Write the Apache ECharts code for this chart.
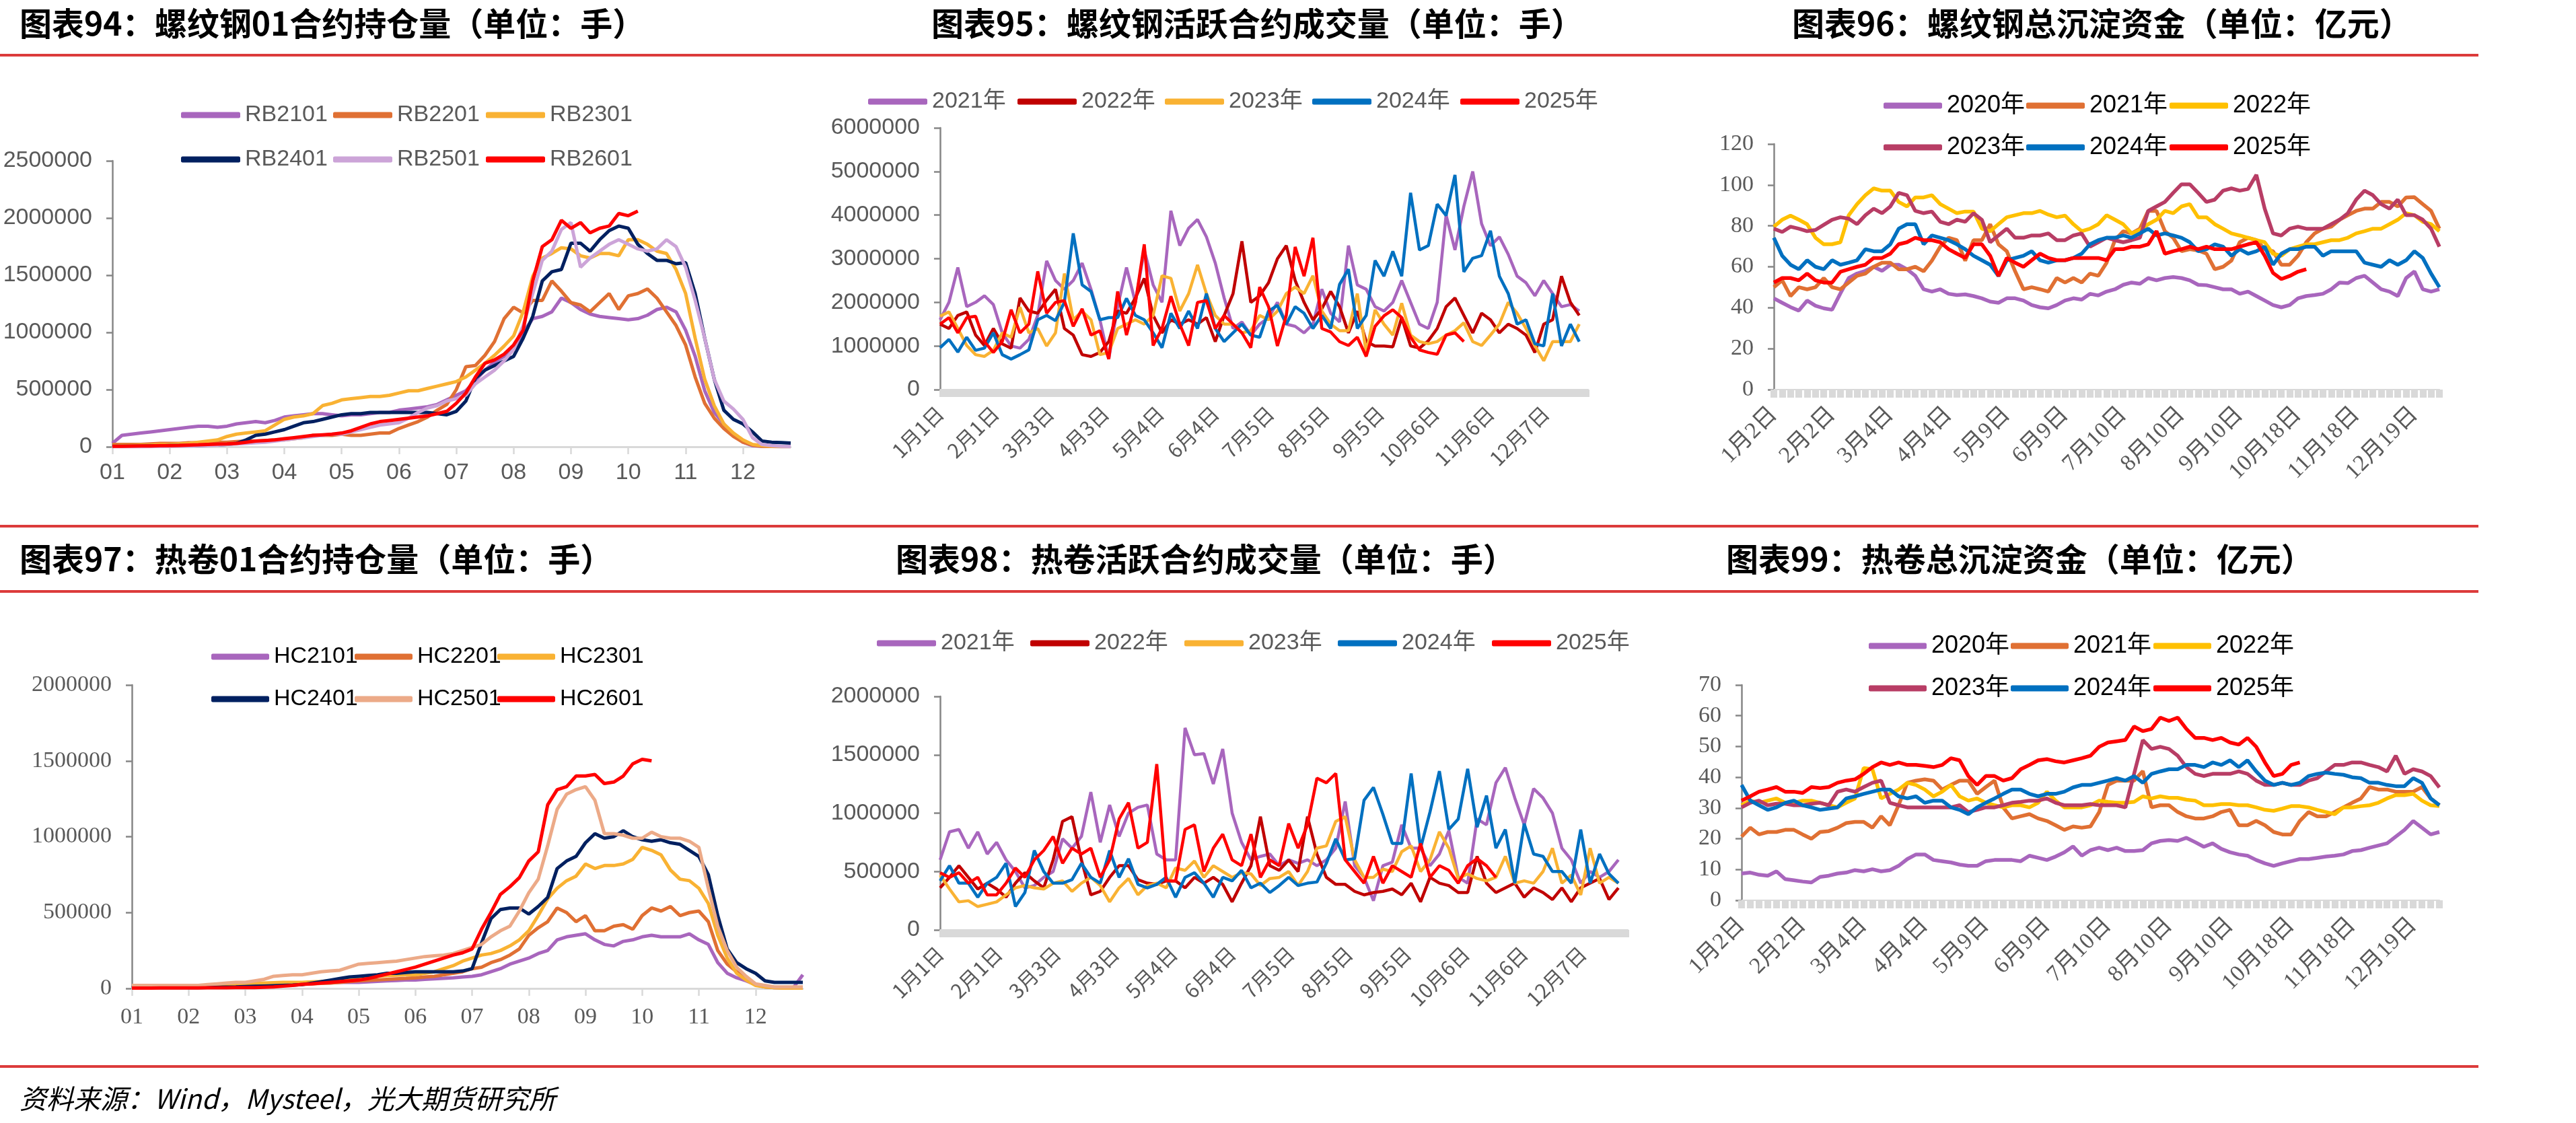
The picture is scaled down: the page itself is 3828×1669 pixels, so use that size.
<!DOCTYPE html>
<html>
<head>
<meta charset="utf-8">
<script src="https://cdn.jsdelivr.net/npm/echarts@6/dist/echarts.min.js"></script>
<style>
  html, body { margin: 0; padding: 0; background: #fff; }
  #chart { width: 3828px; height: 1669px; }
</style>
</head>
<body>
<div id="chart"></div>
<script>
// ---- data (open interest in 万手, volume in 万手, funds in 亿元) ----
const months = ['01','02','03','04','05','06','07','08','09','10','11','12'];
const fundLabels = ['1月2日','2月2日','3月4日','4月4日','5月9日','6月9日','7月10日','8月10日','9月10日','10月18日','11月18日','12月19日'];

// 螺纹钢01合约持仓量, 6 points per month
const rb2101 = [3,10,11,12,13,14, 15,16,17,18,18,17, 18,20,21,22,21,23, 26,27,28,29,29,28, 27,28,28,29,30,30, 32,33,34,35,37,41, 45,49,58,67,74,79, 86,100,112,114,118,130, 126,120,116,114,113,112, 111,112,115,120,122,118, 102,79,49,30,20,10, 4,1,0.5,0.3,0.2,0.2];
const rb2201 = [2,2,2,2,2.5,3, 3,3,3.5,3.5,4,4, 4,4.5,5,5,5.5,6, 6,7,8,10,10,10, 11,10,10,11,12,12, 16,19,22,26,32,37, 50,70,71,80,92,112, 122,117,128,128,145,136, 126,124,118,126,134,120, 132,134,138,130,118,106, 89,61,38,25,16,9, 4,1.5,0.5,0.3,0.2,0.2];
const rb2301 = [1,1,1,1.5,1.5,2, 2,2.5,3,4,5,6, 9,11,12,13,14,19, 24,26,27,29,36,38, 41,42,43,44,44,45, 47,49,49,51,53,55, 57,61,67,73,80,88, 97,118,149,165,169,174, 173,167,165,169,169,167, 181,181,177,171,169,155, 134,95,59,36,20,12, 6,2,1,0.5,0.3,0.3];
const rb2401 = [0.5,0.5,0.5,0.6,0.7,0.8, 1,1,1,1.2,1.4,1.6, 2,3,6,10,11,13, 15,18,21,22,24,26, 28,29,29,30,30,30, 30,30,30,30,29,28, 31,40,60,67,71,75, 79,95,114,145,153,155, 178,178,171,181,189,193, 191,177,169,163,163,160, 161,134,95,59,32,24, 20,13,5,4,3.7,3.3];
const rb2501 = [0,0,0,0,0.2,0.3, 0.5,0.6,0.8,1,1.2,1.5, 2,2.5,3,3.5,4,5, 6,7,8,9,10,11, 11,13,15,17,19,20, 21,25,30,34,36,40, 42,45,55,61,67,75, 85,106,134,163,171,190, 196,157,165,171,177,181, 177,173,171,173,181,175, 157,128,95,59,40,33, 24,8,2,1,0.5,0.3];
const rb2601 = [0.5,0.5,0.6,0.7,0.8,1, 1,1.2,1.5,1.7,2,2.3, 2.5,3,4,5,5.5,6, 7,8,9,10,10.5,11, 12,14,17,20,22,23, 24,25,26,27,29,31, 38,47,61,73,76,81, 89,102,145,175,181,198, 191,196,187,191,193,204, 202,206];

// 热卷01合约持仓量
const hc2101 = [1,1,1,1,1,1.2, 1.3,1.4,1.5,1.6,1.7,1.8, 2,2,2.2,2.4,2.6,2.8, 3,3.2,3.5,3.7,4,4, 4,4.3,4.6,5,5.2,5.5, 5.5,6,6.3,6.6,7,7.5, 8,9,11,13,16,18, 20,23,25,32,34,35, 36,32,29,28,31,32, 34,35,34,34,34,36, 32,29,17,10,7,5, 2.5,1,0.5,0.5,0.5,9];
const hc2201 = [0.5,0.5,0.5,0.5,0.6,0.6, 0.7,0.8,0.9,1,1,1.2, 1.4,1.6,1.8,2,2.2,2.5, 2.8,3,3.3,3.6,4,4.5, 5,5.3,5.6,6,6.3,6.6, 7,7.5,8,9,10,11, 13,14,17,19,22,26, 35,40,44,53,50,44, 48,38,38,41,42,39, 48,53,51,54,48,50, 51,44,25,16,11,7, 2.5,1,0.5,0.3,0.3,0.3];
const hc2301 = [1,1,1,1,1.2,1.4, 1.5,1.7,2,2.2,2.5,2.8, 3,3.2,3.5,3.8,4,4, 4,4.3,4.6,5,5.5,6, 7,7.5,8,8.5,8.8,9, 9,10,11,13,15,18, 20,22,23,25,28,32, 38,48,59,66,71,74, 82,79,81,81,82,85, 93,91,88,78,72,71, 66,56,35,20,10,5.5, 2,1,0.5,0.3,0.3,0.3];
const hc2401 = [2,1,0.5,0.5,0.5,0.5, 0.5,0.6,0.7,0.8,0.9,1, 1.2,1.4,1.6,1.8,2,2.2, 2.5,3.5,4.5,5.5,6.5,7.5, 8,8.5,9,10,10,10.5, 11,11,11,11,11,11.5, 13,30,46,52,53,53, 49,54,60,79,84,87, 96,102,99,100,104,100, 98,97,98,96,95,91, 87,75,48,26,17,13, 10,5,4,4,4,4];
const hc2501 = [2,2,2,2,2,2, 2,2,2.5,3,3.5,4, 4,5,6,8,8.5,9, 9,10,11,11.5,12,14, 16,16.5,17,17.5,18,19, 20,21,21.5,22,23,25, 27,29,34,38,41,51, 63,72,94,118,128,131, 133,124,102,102,101,99, 99,103,100,99,99,97, 93,66,41,25,14,8, 3,2,1,1,1,1];
const hc2601 = [0.2,0.2,0.2,0.3,0.3,0.3, 0.3,0.3,0.4,0.4,0.4,0.5, 0.5,0.6,0.8,1,1.5,2, 2.7,3,3.5,4,4.5,5, 5.5,6.5,8,9.5,11,12.5, 14,16,18,20,22,23.5, 26,39,50,62,67,73, 84,90,121,131,133,140, 140,141,135,136,140,148, 151,150];

// 螺纹钢活跃合约成交量, one value every 5 calendar days
const rbVol2021 = [160,200,280,190,200,215,195,130,100,95, 115,170,295,250,230,250,290,230,160,70, 190,280,200,320,240,200,410,330,370,390, 350,290,210,140,155,125,150,165,200,150, 145,130,150,230,175,155,330,240,230,190, 180,200,250,200,150,140,200,400,320,420, 500,380,330,350,310,260,245,215,250,220, 190,195,180];
const rbVol2022 = [150,140,170,178,125,101,140,105,95,210, 180,175,205,230,140,125,80,76,85,110, 180,175,210,255,170,130,160,150,160,150, 165,110,170,220,340,200,215,245,300,330, 250,200,160,185,225,190,130,180,110,100, 100,98,165,100,95,112,140,190,210,170, 130,175,160,130,150,140,125,85,150,160, 260,200,170];
const rbVol2023 = [168,178,140,101,80,76,90,130,120,189, 130,140,100,130,266,160,180,160,80,85, 140,150,160,150,170,261,255,180,220,286, 220,170,150,150,130,135,170,160,180,220, 235,220,261,180,150,135,135,220,85,183, 150,125,198,125,110,105,110,125,135,153, 110,101,125,150,200,175,140,101,66,110, 110,110,150];
const rbVol2024 = [96,115,86,120,90,95,130,80,70,80, 91,160,170,158,200,358,240,225,160,165, 165,209,170,160,130,96,175,140,180,140, 220,140,110,130,150,125,120,180,193,150, 190,175,140,170,140,241,276,140,170,296, 260,317,260,451,320,330,425,399,492,270, 301,307,364,260,220,150,160,105,100,220, 100,150,110];
const rbVol2025 = [150,165,130,165,168,110,85,110,183,130, 150,271,175,200,204,145,185,125,135,70, 225,125,199,333,101,140,214,150,101,200, 204,140,170,150,130,96,235,190,100,170, 327,260,348,140,132,110,101,120,76,145, 169,183,165,120,91,85,81,125,130,110];

// 热卷活跃合约成交量
const hcVol2021 = [60,84,86,70,84,65,75,60,50,36, 38,45,50,78,70,80,118,75,107,80, 100,105,107,65,60,60,173,150,151,125, 155,100,75,60,63,65,55,60,57,60, 55,60,70,110,55,45,25,55,58,90, 70,70,55,65,85,45,40,95,90,126, 139,113,90,121,113,100,70,60,40,50, 45,50,60];
const hcVol2022 = [36,45,55,45,35,40,35,28,40,49, 42,36,60,93,97,60,30,33,45,55, 55,43,40,39,42,42,36,45,40,45, 39,24,40,55,97,55,51,60,50,97, 65,45,39,39,33,30,32,33,35,30, 40,24,45,40,38,32,32,63,40,32, 36,40,28,36,32,26,36,24,36,40, 44,26,36];
const hcVol2023 = [47,35,24,25,20,22,24,30,36,38, 36,35,40,42,33,40,45,38,24,36, 44,30,38,40,36,53,51,59,45,55, 50,45,49,48,38,44,45,50,38,50, 70,72,93,97,60,45,45,52,50,67, 72,50,60,84,70,44,48,44,42,45, 63,40,42,40,50,70,40,47,30,70, 40,45,40];
const hcVol2024 = [42,55,40,40,28,40,45,57,20,32, 68,50,40,40,43,57,45,40,68,45, 61,39,36,39,45,28,45,49,40,28, 45,42,51,36,40,32,38,45,38,40, 41,57,78,60,61,111,122,99,74,74, 134,70,101,136,86,95,138,88,115,70, 86,40,91,65,63,50,50,40,86,40, 65,48,40];
const hcVol2025 = [49,45,49,40,45,30,30,40,53,45, 60,68,80,57,70,65,70,45,60,95, 109,70,75,142,42,42,86,90,50,70, 82,60,55,82,45,60,55,91,70,90, 130,126,134,60,50,40,63,40,55,50, 45,74,45,55,51,40,55,61,55,45];

// 螺纹钢总沉淀资金, roughly every 3 trading days
const rbFund2020 = [44.6,42.4,40.3,38.6,43.5,41,39.7,39,47,54.5, 56.7,58,60,58,61,61,58.8,55.6,49,47.9, 49,46.8,46.2,46.5,45.7,44.6,43,42.4,44.6,44.6, 43.5,41.3,40.2,39.7,41.3,43.5,44.6,44,46.8,46, 47.9,49,51.2,52.3,51.7,54.5,53.4,54.5,55,54.5, 53.4,51.2,51,50,49,49,46.8,47.9,45.7,43.5, 41.3,40.2,41.3,44.6,45.7,46.2,46.8,49,52.3,52, 54.5,55.6,52.3,49,47.9,45.7,54.5,57.7,49,47.9, 49];
const rbFund2021 = [50,53.4,45.7,50,49,50,54.5,50,49,52.3, 55.6,56.7,60,62,62,58.8,58.8,60,57.8,63, 69.8,74.2,73,63,73,73,80.8,71,67.6,57.8, 49,50,49,47.9,54.5,52.3,54.5,52.3,56.7,55.6, 62,73,77.4,76.3,78.6,87.3,87.3,77.4,74.2,67.6, 68.6,68,66.4,58.8,60,63,72,74.2,73,68.6, 67.6,61,61,65.4,72,76.3,78.6,79.6,83,85.2, 87.3,88.4,88.4,91.7,91.7,89.5,93.9,94,90.6,87.3, 78.6];
const rbFund2022 = [79.6,83,85,83,80.8,74.2,71,71,72,85.2, 90.6,95,98.3,97.2,97.2,91.7,89.5,93.9,93.9,95, 90.6,88.4,86.2,87,87,78.6,77.4,80.8,84.2,85.2, 86.2,86.2,87.3,85.5,84.2,85,80.8,77.4,78.6,80.8, 85.2,83,80.8,76.3,78,80.8,83,87.3,86.2,89.5, 90.6,84.2,84.2,80.8,78.6,76.3,75.3,74.2,73,72, 66.4,65.4,68.6,69.8,71,71,72,73,73,74.2, 76.3,77.4,78.6,78.6,80.8,83,86.2,85.2,82,80.8, 77.4];
const rbFund2023 = [78.6,77,79.6,78.6,77.4,78,80.5,83,84.2,83.5, 80.8,85.2,88.4,86.2,89.5,96.1,95,87.3,86.2,87, 82,80.8,83,82,86.2,83,72,75.3,78.6,74.2, 74.2,75.3,75.3,76.3,73,73,75.3,76.3,69.8,72, 74.2,73,72,73,74.2,87.3,89.5,91.7,96.1,100.3, 100.3,96.1,91.7,92.8,97.2,98.3,97.2,98,104.9,88.4, 76.3,75.3,78.6,79.6,78.6,78.6,78.6,80.8,83,86.2, 92.8,97.2,95,90.6,88.4,92.8,85.2,85.2,83,78.6, 69.8];
const rbFund2024 = [74.2,65.4,61,58.8,63.2,60,58.8,63.2,61,62, 63.2,68.6,67.6,67.6,71,78.6,80.8,80.8,71,75.3, 74.2,73,71,68.6,65.4,63.2,61,55.5,63.2,64.3, 65.4,67.6,63.2,62,63.2,63.2,64.3,66.4,71,73, 74.2,74.2,75.3,74.2,76.3,78.6,75.3,76.3,75.3,74.2, 72,67.6,68.6,71,69.8,65.4,68.6,66.4,67.6,69.8, 61,66.4,68.6,68.6,69.8,69.8,65.4,67.6,67.6,67.6, 67.6,62,61,60,63.2,61,63.2,67.6,64.3,56.7, 50];
const rbFund2025 = [52.3,54.5,54.5,53.4,56.7,53.4,52.3,52.3,57.6,58.8, 60,61,64.3,64.3,66.4,71,72,74.2,73,73, 72,68.6,66.4,64.3,71,71,65.4,55.5,64.3,62, 60,63.2,66.4,64.3,63.2,63.2,64.3,64.3,64.3,64.3, 63.2,68.6,68.6,69.8,69.8,71,77.4,66.4,67.6,68.6, 69.8,68.6,69.8,68.6,68.6,68.6,69.8,71,72,65.4, 57,54,55.5,57.6,58.8];

// 热卷总沉淀资金
const hcFund2020 = [8.7,9,8.3,8,9.4,6.9,6.5,6.1,5.8,7.6, 8,8.7,9,9.8,9.4,10.1,9.4,9.8,11.2,13.4, 14.9,14.9,13.1,12.7,12.3,11.6,11.2,11.2,12.7,13.1, 13.1,13.1,12.7,14.5,13.8,13.1,14.2,15.6,17.5,14.5, 16.3,17.1,16.3,17.1,16,16,16.3,18.5,19.3,19.6, 19.3,20.3,18.9,17.4,18.5,16.7,15.6,14.9,14.5,13.1, 12,11.2,12,12.7,13.4,13.4,13.8,14.2,14.5,14.9, 16,16.3,17.1,17.8,18.5,20.7,22.9,25.8,23.6,21.4, 22.2];
const hcFund2021 = [20.7,23.6,21.4,22.2,22.2,22.9,22.9,21.4,20,22.2, 22.5,23.6,25.1,25.5,25.5,23.6,27.3,24.4,30.9,38.2, 38.9,39.3,38.9,36,37.5,38.9,38.9,34.6,36.8,38.9, 30.2,26.6,27.3,28,26.6,25.8,24.4,22.9,24,23.6, 24,28.7,37.5,38.9,38.9,38.9,42,30.2,30.9,30.9, 28.7,27.3,26.6,26.6,27.3,28.7,29.4,24.4,24.4,25.8, 24.4,22.2,21.4,21.4,25.8,28.7,27.3,27.3,28.7,30.2, 31.7,33.1,36.8,36,36,35.3,35.3,35.3,36.8,33.1, 30.9];
const hcFund2022 = [30.9,32.4,31.7,32.4,33.1,31.7,31.7,32.4,32.4,31.7, 30.9,30.2,31.7,33.1,43,42.6,33.1,34.6,36,38.2, 37.5,36,33.8,35.3,37.5,33.8,32.4,33.1,31.7,30.9, 30.2,30.9,30.9,30.2,31.7,35.3,32.4,30.2,30.2,30.2, 30.9,32.4,32,31.7,31.7,32,33.8,33.1,33.8,33.3, 33.3,32.7,32.4,30.9,30.9,31.3,31.3,30.9,30.9,30.2, 29.4,29.1,29.8,30.6,30.6,30.2,29.4,28.7,28,30.2, 30.2,30.6,30.9,31.7,33.1,34.2,34.2,34.6,32.4,30.9, 30.6];
const hcFund2023 = [30.2,31.7,32.4,30.9,31.4,31.4,30.9,30.9,31.4,31.7, 30.9,35.3,36,35.3,36.8,38.2,38.9,31.7,30.9,30.2, 30.2,30.2,30.2,30.2,30.2,30.9,28.7,29.4,30.2,30.2, 30.9,31.7,32,32.4,32.4,33.1,31.7,30.9,30.9,30.9, 31.3,30.9,30.9,30.9,30.2,41.1,52.1,49.2,49.9,49.2, 47,43.3,41.1,40.4,41.1,41.1,41.1,41.9,41.1,38.9, 37.5,37.5,38.2,37.5,37.5,38.9,39.7,41.9,44,44, 44.8,44.8,44,43.3,41.9,47,41.1,42.6,41.9,40.4, 36.7];
const hcFund2024 = [37.5,32.4,30.9,29.4,30.2,31.7,32.4,30.9,30.2,29.4, 29.8,30.2,33.1,33.8,34.6,35.3,36,36,33.8,33.1, 33.8,31.7,32.4,32.4,30.2,29.4,28,30.2,31.7,33.1, 34.6,36,36,34.6,33.8,34.6,34.6,35.3,36.7,37.5, 37.5,38.2,38.9,39.7,38.9,40.4,38.2,41.1,41.9,42.6, 42.6,44,44,43.3,44.8,44,45.5,43.3,45.5,41.9, 38.9,37.5,38.2,37.5,38.2,40.4,41.1,41.5,41.1,40.8, 40,39.7,38.2,38.2,37.5,37.1,37.1,39.7,38.2,33.1, 30.9];
const hcFund2025 = [32.4,33.8,35.3,36,36.8,35.3,35.3,34.9,36.8,36.5, 36.8,38.2,38.9,39.3,41.1,43.3,44.8,44,44.8,44, 44,43.7,43.3,44,46.2,45.5,40.4,37.5,40.4,40.4, 38.9,39.7,42.6,44,45.5,45.9,45.2,44.8,45.5,46.2, 47,49.9,51.3,51.7,52.1,56.5,55,55.7,59.4,58.3, 59.4,55.7,52.8,52.8,52.1,52.8,51.3,50.6,52.8,49.9, 44.8,40.4,41.1,44,44.8];

// ---- categories ----
const WAN = 10000;
const PER_MONTH = 6;
const oiCats = [];
months.forEach(m => { for (let k = 0; k < PER_MONTH; k++) oiCats.push(k === 0 ? m : m + '-' + k); });

// calendar-day axis (leap year, so the labels fall on 3月3日, 4月3日 ...)
const DAY_STEP = 5;
const dayCats = [];
for (let d = 0; d < 366; d++) {
  const dt = new Date(2024, 0, 1 + d);
  dayCats.push((dt.getMonth() + 1) + '月' + dt.getDate() + '日');
}
function spreadDays(vals) {
  const out = new Array(dayCats.length).fill(null);
  vals.forEach((v, j) => { out[j * DAY_STEP] = v * WAN; });
  return out;
}

const PER_LABEL = 7;
const FUND_N = 81;
const fundCats = [];
for (let k = 0; k < FUND_N; k++) {
  const base = fundLabels[Math.min(Math.floor(k / PER_LABEL), fundLabels.length - 1)];
  fundCats.push(k % PER_LABEL === 0 ? base : base + '·' + (k % PER_LABEL));
}

// ---- styles ----
const NARROW = '"Liberation Sans Narrow", "Liberation Sans", "Noto Sans CJK SC", sans-serif';
const SERIF = '"Liberation Serif", "Noto Sans CJK SC", serif';
const CJK = '"Noto Sans CJK SC", sans-serif';
const AXIS_GREY = '#868686';
const BAND = '#D9D9D9';
const LABEL = '#595959';

const C = {
  purple: '#A866BD', orange: '#E07033', amber: '#F9B233', navy: '#002060',
  lilac: '#CCA4D8', red: '#FF0000', salmon: '#ECAA88', darkred: '#C00000',
  blue: '#0070C0', gold: '#FFC000', crimson: '#B83D65'
};

const grids = [
  { left: 167, top: 239, width: 1008, height: 425 },
  { left: 1397, top: 190, width: 963, height: 389 },
  { left: 2636, top: 214, width: 989, height: 365 },
  { left: 196, top: 1018, width: 997, height: 451 },
  { left: 1397, top: 1035, width: 1022, height: 347 },
  { left: 2588, top: 1018, width: 1037, height: 320 }
].map(g => Object.assign({ containLabel: false, outerBoundsMode: 'none' }, g));

function yAx(grid, max, interval, family) {
  return {
    type: 'value', gridIndex: grid, min: 0, max: max, interval: interval,
    axisLine: { show: true, lineStyle: { color: AXIS_GREY, width: 2.5 } },
    axisTick: { show: true, length: 9, lineStyle: { color: AXIS_GREY, width: 2.5 } },
    splitLine: { show: false },
    axisLabel: { margin: 30, fontSize: 34, color: LABEL, fontFamily: family, formatter: v => String(v) }
  };
}
function xMonth(grid, family, margin) {
  return {
    type: 'category', gridIndex: grid, data: oiCats, boundaryGap: false,
    axisLine: { lineStyle: { color: BAND, width: 3 } },
    axisTick: { interval: PER_MONTH - 1, length: 11, lineStyle: { color: BAND, width: 2.5 } },
    axisLabel: { interval: PER_MONTH - 1, margin: margin, fontSize: 34, color: LABEL, fontFamily: family }
  };
}
function xDays(grid) {
  return {
    type: 'category', gridIndex: grid, data: dayCats, boundaryGap: false,
    axisLine: { lineStyle: { color: BAND, width: 2 } },
    axisTick: { interval: 0, length: 11, lineStyle: { color: BAND, width: 3 } },
    axisLabel: { interval: 30, rotate: 45, margin: 30, fontSize: 30, color: LABEL, fontFamily: CJK }
  };
}
function xFund(grid) {
  return {
    type: 'category', gridIndex: grid, data: fundCats, boundaryGap: false,
    axisLine: { lineStyle: { color: BAND, width: 2 } },
    axisTick: { interval: 0, length: 12, lineStyle: { color: BAND, width: 10 } },
    axisLabel: { interval: PER_LABEL - 1, rotate: 45, margin: 32, fontSize: 34, color: LABEL, fontFamily: SERIF }
  };
}

const DISPLAY = {};
const series = [];
function addLine(name, label, idx, data, color, width) {
  DISPLAY[name] = label;
  series.push({
    type: 'line', name: name, xAxisIndex: idx, yAxisIndex: idx, data: data,
    color: color, symbol: 'none', showSymbol: false, connectNulls: true,
    lineStyle: { color: color, width: width }, itemStyle: { color: color },
    emphasis: { disabled: true }
  });
}
const toWan = arr => arr.map(v => v * WAN);

// panel 94
[['RB2101', rb2101, C.purple], ['RB2201', rb2201, C.orange], ['RB2301', rb2301, C.amber],
 ['RB2401', rb2401, C.navy], ['RB2501', rb2501, C.lilac], ['RB2601', rb2601, C.red]]
  .forEach(([n, d, c]) => addLine(n, n, 0, toWan(d), c, 5));
// panel 95
[['2021', rbVol2021, C.purple], ['2022', rbVol2022, C.darkred], ['2023', rbVol2023, C.amber],
 ['2024', rbVol2024, C.blue], ['2025', rbVol2025, C.red]]
  .forEach(([y, d, c]) => addLine('rbv' + y, y + '年', 1, spreadDays(d), c, 4.5));
// panel 96
[['2020', rbFund2020, C.purple], ['2021', rbFund2021, C.orange], ['2022', rbFund2022, C.gold],
 ['2023', rbFund2023, C.crimson], ['2024', rbFund2024, C.blue], ['2025', rbFund2025, C.red]]
  .forEach(([y, d, c]) => addLine('rbf' + y, y + '年', 2, d, c, 5.5));
// panel 97
[['HC2101', hc2101, C.purple], ['HC2201', hc2201, C.orange], ['HC2301', hc2301, C.amber],
 ['HC2401', hc2401, C.navy], ['HC2501', hc2501, C.salmon], ['HC2601', hc2601, C.red]]
  .forEach(([n, d, c]) => addLine(n, n, 3, toWan(d), c, 5));
// panel 98
[['2021', hcVol2021, C.purple], ['2022', hcVol2022, C.darkred], ['2023', hcVol2023, C.amber],
 ['2024', hcVol2024, C.blue], ['2025', hcVol2025, C.red]]
  .forEach(([y, d, c]) => addLine('hcv' + y, y + '年', 4, spreadDays(d), c, 4.5));
// panel 99
[['2020', hcFund2020, C.purple], ['2021', hcFund2021, C.orange], ['2022', hcFund2022, C.gold],
 ['2023', hcFund2023, C.crimson], ['2024', hcFund2024, C.blue], ['2025', hcFund2025, C.red]]
  .forEach(([y, d, c]) => addLine('hcf' + y, y + '年', 5, d, c, 5.5));

// one legend per item so each sits where the reference puts it
const legends = [];
function legendRow(names, xs, ys, perRow, itemW, textStyle) {
  names.forEach((n, i) => {
    legends.push({
      data: [{ name: n, icon: 'roundRect' }],
      left: xs[i % perRow], top: ys[Math.floor(i / perRow)] - 18,
      orient: 'horizontal', padding: 0, itemGap: 0, selectedMode: false,
      itemWidth: itemW, itemHeight: 9,
      formatter: name => DISPLAY[name] || name,
      textStyle: Object.assign({ padding: [0, 0, 0, 2] }, textStyle)
    });
  });
}
const greyLegend = { fontSize: 34, color: LABEL, fontFamily: NARROW };
const blackLegend = { fontSize: 36, color: '#000', fontFamily: NARROW };
legendRow(['RB2101','RB2201','RB2301','RB2401','RB2501','RB2601'], [269, 495, 722], [172, 238], 3, 88, greyLegend);
legendRow(['rbv2021','rbv2022','rbv2023','rbv2024','rbv2025'], [1290, 1512, 1731, 1950, 2170], [152], 5, 88, greyLegend);
legendRow(['rbf2020','rbf2021','rbf2022','rbf2023','rbf2024','rbf2025'], [2799, 3011, 3224], [157, 219], 3, 87, blackLegend);
legendRow(['HC2101','HC2201','HC2301','HC2401','HC2501','HC2601'], [314, 527, 739], [977, 1040], 3, 86, { fontSize: 34, color: '#000', fontFamily: NARROW });
legendRow(['hcv2021','hcv2022','hcv2023','hcv2024','hcv2025'], [1303, 1531, 1760, 1988, 2217], [957], 5, 88, greyLegend);
legendRow(['hcf2020','hcf2021','hcf2022','hcf2023','hcf2024','hcf2025'], [2777, 2988, 3200], [960, 1023], 3, 86, blackLegend);

// titles, rules and source note
const RULE = '#DC3B3B';
const titles = [
  ['图表94：螺纹钢01合约持仓量（单位：手）', 29, 35],
  ['图表95：螺纹钢活跃合约成交量（单位：手）', 1384, 35],
  ['图表96：螺纹钢总沉淀资金（单位：亿元）', 2663, 35],
  ['图表97：热卷01合约持仓量（单位：手）', 29, 831],
  ['图表98：热卷活跃合约成交量（单位：手）', 1331, 831],
  ['图表99：热卷总沉淀资金（单位：亿元）', 2565, 831]
];
const graphic = [];
titles.forEach(([t, x, y]) => graphic.push({
  type: 'text', x: x, y: y,
  style: { text: t, fontSize: 48, fontWeight: 'bold', fontFamily: CJK, fill: '#000', verticalAlign: 'middle' }
}));
[82, 782, 879, 1585].forEach(y => graphic.push({
  type: 'line', shape: { x1: 0, y1: y, x2: 3683, y2: y }, style: { stroke: RULE, lineWidth: 4 }
}));
graphic.push({
  type: 'text', x: 29, y: 1633,
  style: { text: '资料来源：Wind，Mysteel，光大期货研究所', fontSize: 40, fontStyle: 'italic', fontFamily: CJK, fill: '#000', verticalAlign: 'middle' }
});

const chart = echarts.init(document.getElementById('chart'), null, { renderer: 'canvas' });
chart.setOption({
  animation: false,
  backgroundColor: '#fff',
  grid: grids,
  xAxis: [xMonth(0, NARROW, 22), xDays(1), xFund(2), xMonth(3, SERIF, 26), xDays(4), xFund(5)],
  yAxis: [
    yAx(0, 2500000, 500000, NARROW),
    yAx(1, 6000000, 1000000, NARROW),
    yAx(2, 120, 20, SERIF),
    yAx(3, 2000000, 500000, SERIF),
    yAx(4, 2000000, 500000, NARROW),
    yAx(5, 70, 10, SERIF)
  ],
  legend: legends,
  series: series,
  graphic: graphic
});
</script>
</body>
</html>
